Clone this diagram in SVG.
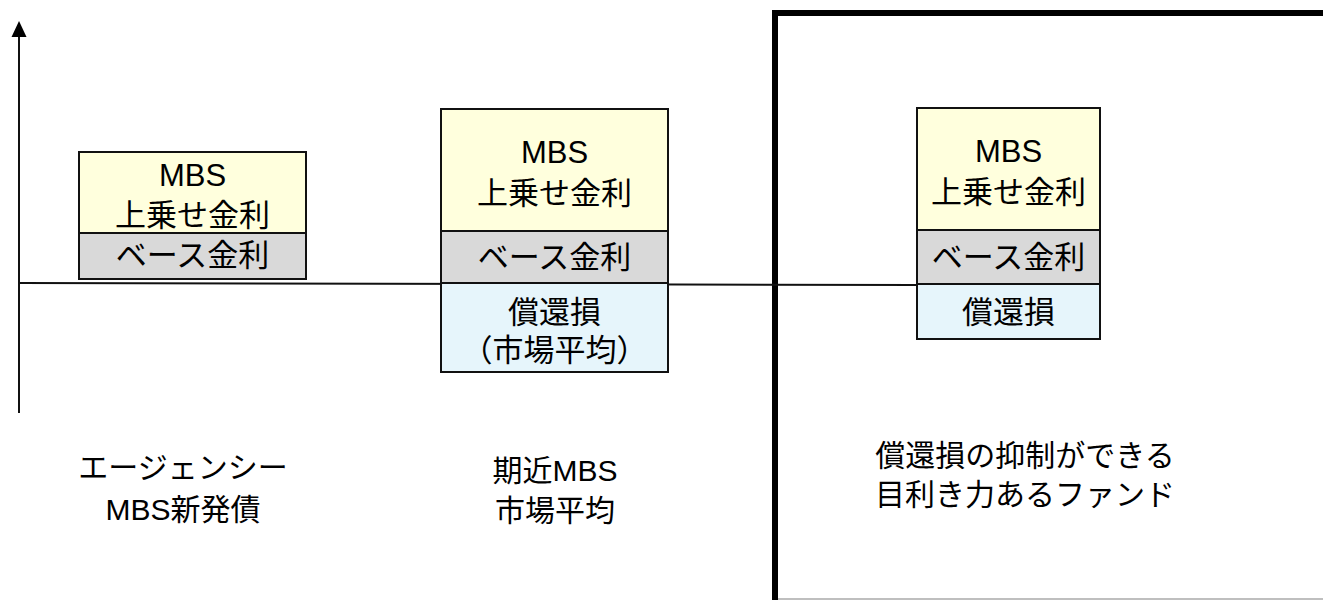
<svg xmlns="http://www.w3.org/2000/svg" width="1323" height="600" viewBox="0 0 1323 600">
<style>
text{font-family:"Liberation Sans","Noto Sans CJK JP",sans-serif;font-size:31px;fill:#000;text-anchor:middle}
.lb text{font-size:30px}
.y{fill:#FFFFDD;stroke:#111;stroke-width:2}
.g{fill:#D9D9D9;stroke:#111;stroke-width:2}
.b{fill:#E6F5FB;stroke:#111;stroke-width:2}
.ln{stroke:#111;stroke-width:2;fill:none}
</style>
<g id="frame">
<path d="M775,600V13H1323" fill="none" stroke="#000" stroke-width="6"/>
<line x1="778" y1="599" x2="1323" y2="599" stroke="#aaa" stroke-width="1.5"/>
</g>
<g id="connectors">
<line class="ln" x1="19" y1="413" x2="19" y2="34"/>
<path d="M19,21L26.5,37H11.5z" fill="#000"/>
<line class="ln" x1="19" y1="283" x2="917" y2="285"/>
</g>
<g id="box1">
<rect class="y" x="79" y="152" width="227" height="81"/>
<rect class="g" x="79" y="233" width="227" height="46"/>
<text x="192.5" y="186">MBS</text>
<text x="192.5" y="226">上乗せ金利</text>
<text x="192.5" y="266">ベース金利</text>
</g>
<g id="box2">
<rect class="y" x="441" y="109" width="227" height="122"/>
<rect class="g" x="441" y="231" width="227" height="52"/>
<rect class="b" x="441" y="283" width="227" height="89"/>
<text x="554.5" y="163">MBS</text>
<text x="554.5" y="204">上乗せ金利</text>
<text x="554.5" y="268">ベース金利</text>
<text x="554.5" y="323">償還損</text>
<text x="554.5" y="361">（市場平均）</text>
</g>
<g id="box3">
<rect class="y" x="917" y="108" width="183" height="122"/>
<rect class="g" x="917" y="230" width="183" height="54"/>
<rect class="b" x="917" y="284" width="183" height="55"/>
<text x="1008.5" y="162">MBS</text>
<text x="1008.5" y="203">上乗せ金利</text>
<text x="1008.5" y="268">ベース金利</text>
<text x="1008.5" y="323">償還損</text>
</g>
<g id="label1" class="lb">
<text x="183" y="478">エージェンシー</text>
<text x="183" y="520">MBS新発債</text>
</g>
<g id="label2" class="lb">
<text x="555" y="481">期近MBS</text>
<text x="555" y="521">市場平均</text>
</g>
<g id="label3" class="lb">
<text x="1025" y="466">償還損の抑制ができる</text>
<text x="1025" y="505">目利き力あるファンド</text>
</g>
</svg>
